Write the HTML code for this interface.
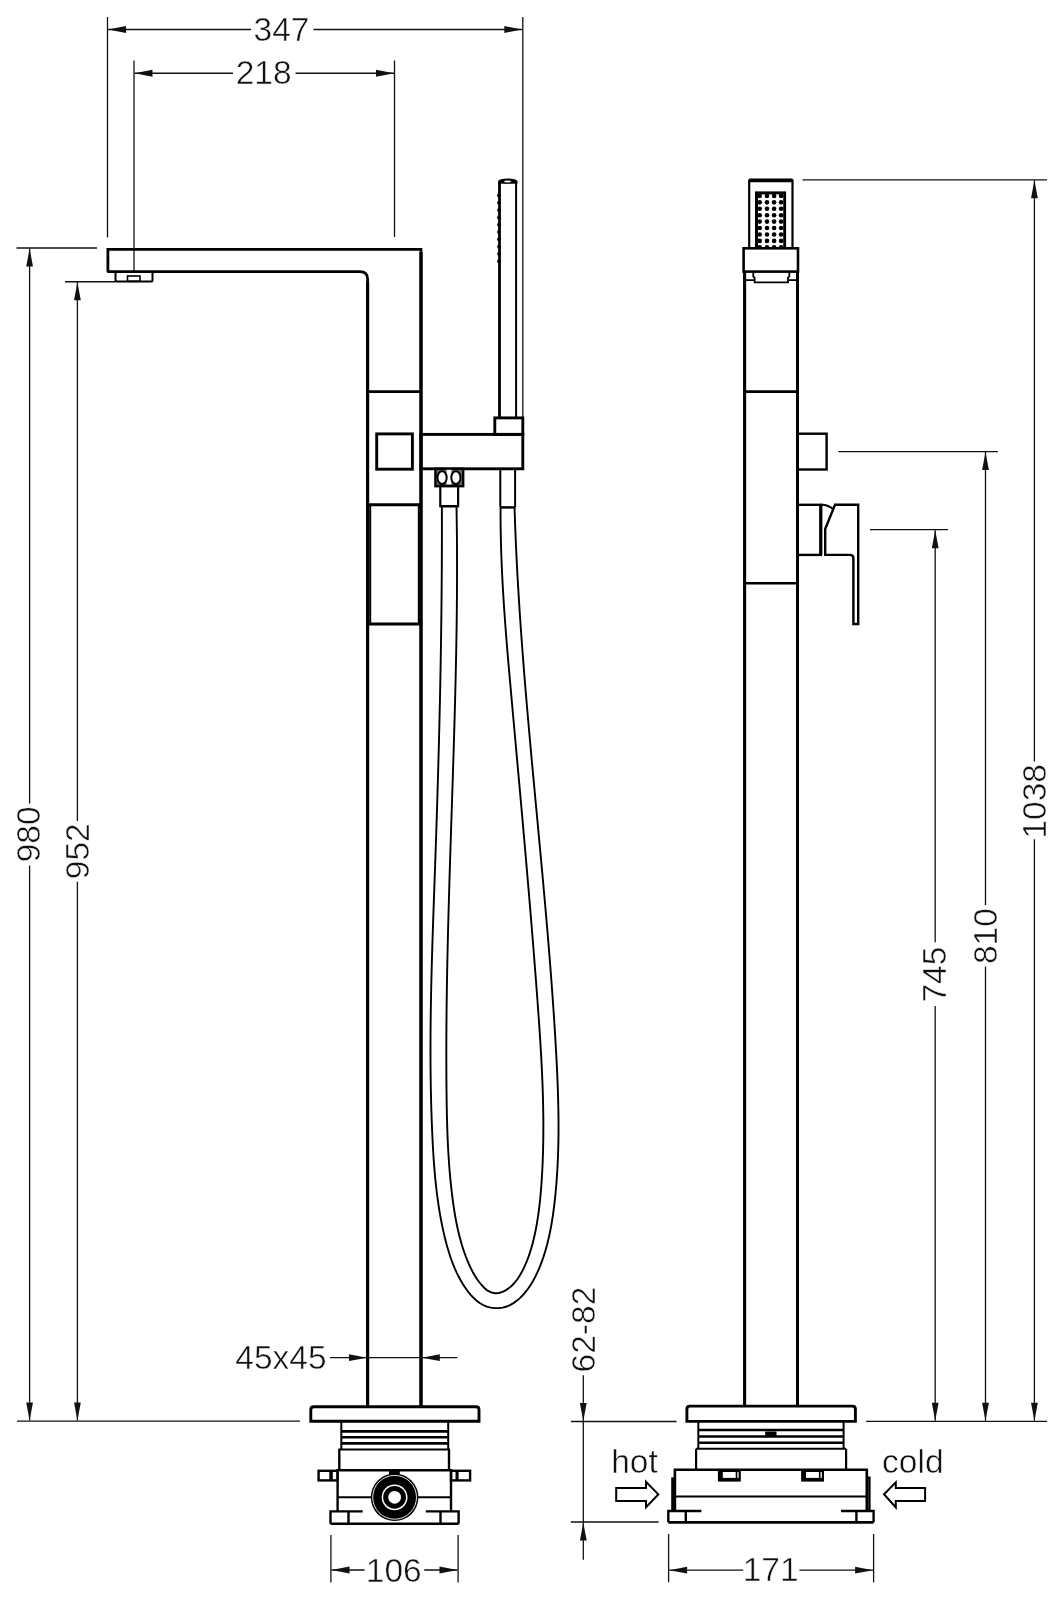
<!DOCTYPE html>
<html><head><meta charset="utf-8"><style>
html,body{margin:0;padding:0;background:#fff;}
svg{display:block;will-change:transform;}
text{font-family:"Liberation Sans",sans-serif;fill:#111;stroke:#fff;stroke-width:0.5px;}
</style></head><body>
<svg width="1064" height="1600" viewBox="0 0 1064 1600">
<rect x="0" y="0" width="1064" height="1600" fill="#fff"/>
<line x1="107.5" y1="17" x2="107.5" y2="237.5" stroke="#111" stroke-width="1.3" />
<line x1="522.8" y1="17" x2="522.8" y2="419" stroke="#111" stroke-width="1.3" />
<line x1="108" y1="29.5" x2="251" y2="29.5" stroke="#111" stroke-width="1.3" />
<line x1="313.5" y1="29.5" x2="522" y2="29.5" stroke="#111" stroke-width="1.3" />
<polygon points="108.00,29.50 126.00,26.10 126.00,32.90" fill="#111"/>
<polygon points="522.30,29.50 504.30,26.10 504.30,32.90" fill="#111"/>
<text x="281.5" y="41" font-size="33.5" text-anchor="middle">347</text>
<line x1="134" y1="60.5" x2="134" y2="272" stroke="#111" stroke-width="1.3" />
<line x1="394.5" y1="60.5" x2="394.5" y2="237" stroke="#111" stroke-width="1.3" />
<line x1="134.5" y1="73.25" x2="233" y2="73.25" stroke="#111" stroke-width="1.3" />
<line x1="295.5" y1="73.25" x2="394" y2="73.25" stroke="#111" stroke-width="1.3" />
<polygon points="134.50,73.25 152.50,69.85 152.50,76.65" fill="#111"/>
<polygon points="394.00,73.25 376.00,69.85 376.00,76.65" fill="#111"/>
<text x="263.7" y="84.4" font-size="33.5" text-anchor="middle">218</text>
<line x1="16.5" y1="248" x2="97" y2="248" stroke="#111" stroke-width="1.3" />
<line x1="65" y1="281.75" x2="115" y2="281.75" stroke="#111" stroke-width="1.3" />
<line x1="17" y1="1421.1" x2="300" y2="1421.1" stroke="#111" stroke-width="1.3" />
<line x1="29.6" y1="248.5" x2="29.6" y2="803.4" stroke="#111" stroke-width="1.3" />
<line x1="29.6" y1="865.4" x2="29.6" y2="1420.6" stroke="#111" stroke-width="1.3" />
<polygon points="29.60,248.50 26.20,266.50 33.00,266.50" fill="#111"/>
<polygon points="29.60,1420.60 26.20,1402.60 33.00,1402.60" fill="#111"/>
<text transform="translate(40,834.4) rotate(-90)" x="0" y="0" font-size="33.5" text-anchor="middle">980</text>
<line x1="77.4" y1="282" x2="77.4" y2="820.9" stroke="#111" stroke-width="1.3" />
<line x1="77.4" y1="881.8" x2="77.4" y2="1420.6" stroke="#111" stroke-width="1.3" />
<polygon points="77.40,282.20 74.00,300.20 80.80,300.20" fill="#111"/>
<polygon points="77.40,1420.60 74.00,1402.60 80.80,1402.60" fill="#111"/>
<text transform="translate(88.7,851.2) rotate(-90)" x="0" y="0" font-size="33.5" text-anchor="middle">952</text>
<path d="M107.9,249.3 L421,249.3 L421,1406.7" stroke="#000" stroke-width="2.7" fill="none" />
<line x1="421" y1="252" x2="421" y2="1406.7" stroke="#000" stroke-width="3.3" />
<path d="M107.9,247.9 L107.9,270.4 Q107.9,271.6 109.1,271.6 L360,271.6 Q367.6,271.6 367.6,279.2 L367.6,1406.7" stroke="#000" stroke-width="2.8" fill="none" />
<line x1="367.6" y1="282" x2="367.6" y2="1406.7" stroke="#000" stroke-width="3.2" />
<path d="M115.5,272 L115.5,280 Q115.5,281.6 117,281.6 L151,281.6 Q152.5,281.6 152.5,280 L152.5,272" stroke="#000" stroke-width="2.0" fill="none" />
<rect x="127.5" y="276" width="12.50" height="5.30" stroke="#000" stroke-width="1.6" fill="none"/>
<line x1="367.6" y1="391.6" x2="421" y2="391.6" stroke="#000" stroke-width="2.9" />
<line x1="367.6" y1="504.8" x2="421" y2="504.8" stroke="#000" stroke-width="2.9" />
<line x1="367.6" y1="624" x2="421" y2="624" stroke="#000" stroke-width="2.9" />
<line x1="370.2" y1="504.8" x2="370.2" y2="624" stroke="#000" stroke-width="2" />
<line x1="418.8" y1="504.8" x2="418.8" y2="624" stroke="#000" stroke-width="2" />
<rect x="376.7" y="433.9" width="35.70" height="35.30" stroke="#000" stroke-width="2.9" fill="none"/>
<rect x="421" y="434.4" width="101.80" height="34.40" stroke="#000" stroke-width="2.9" fill="none"/>
<line x1="499.5" y1="181" x2="499.5" y2="418" stroke="#000" stroke-width="2.8" />
<line x1="516.1" y1="181" x2="516.1" y2="418" stroke="#000" stroke-width="2.0" />
<ellipse cx="507.8" cy="181.0" rx="9.4" ry="2.6" fill="#000"/>
<rect x="498.1" y="181.0" width="19.30" height="2.70" stroke="#000" stroke-width="0" fill="#000"/>
<ellipse cx="507.6" cy="181.5" rx="3.4" ry="0.9" fill="#fff"/>
<circle cx="499" cy="195.50" r="1.9" fill="#000"/>
<circle cx="499" cy="202.80" r="1.9" fill="#000"/>
<circle cx="499" cy="210.10" r="1.9" fill="#000"/>
<circle cx="499" cy="217.40" r="1.9" fill="#000"/>
<circle cx="499" cy="224.70" r="1.9" fill="#000"/>
<circle cx="499" cy="232.00" r="1.9" fill="#000"/>
<circle cx="499" cy="239.30" r="1.9" fill="#000"/>
<circle cx="499" cy="246.60" r="1.9" fill="#000"/>
<circle cx="499" cy="253.90" r="1.9" fill="#000"/>
<circle cx="499" cy="261.20" r="1.9" fill="#000"/>
<rect x="494.8" y="417.9" width="28.00" height="16.50" stroke="#000" stroke-width="2.9" fill="none"/>
<rect x="435.4" y="468.8" width="27.80" height="17.40" stroke="#000" stroke-width="2.4" fill="#666"/>
<rect x="446.6" y="469.8" width="4.80" height="15.40" stroke="#000" stroke-width="0" fill="#fff"/>
<ellipse cx="442.1" cy="477.6" rx="4.6" ry="6.4" stroke="#000" stroke-width="2.0" fill="#fff"/>
<ellipse cx="455.9" cy="477.6" rx="4.6" ry="6.4" stroke="#000" stroke-width="2.0" fill="#fff"/>
<rect x="440.3" y="485.7" width="17.80" height="20.50" stroke="#000" stroke-width="2.2" fill="none"/>
<line x1="500.3" y1="468.8" x2="500.3" y2="507.4" stroke="#000" stroke-width="2" />
<line x1="515.1" y1="468.8" x2="515.1" y2="507.4" stroke="#000" stroke-width="2" />
<line x1="500.3" y1="507.4" x2="515.1" y2="507.4" stroke="#000" stroke-width="2" />
<path d="M441.87,506.21 L441.88,510.35 L441.89,514.49 L441.90,518.63 L441.90,522.77 L441.91,526.91 L441.91,531.04 L441.90,535.18 L441.90,539.32 L441.89,543.46 L441.88,547.60 L441.86,551.74 L441.85,555.88 L441.83,560.02 L441.81,564.16 L441.79,568.30 L441.76,572.44 L441.73,576.58 L441.70,580.72 L441.67,584.86 L441.64,589.00 L441.60,593.14 L441.56,597.28 L441.52,601.42 L441.48,605.56 L441.43,609.70 L441.39,613.84 L441.34,617.98 L441.28,622.12 L441.23,626.26 L441.17,630.40 L441.12,634.54 L441.06,638.68 L440.99,642.82 L440.93,646.97 L440.86,651.11 L440.79,655.25 L440.72,659.39 L440.65,663.53 L440.58,667.67 L440.50,671.81 L440.42,675.95 L440.34,680.09 L440.26,684.23 L440.18,688.37 L440.09,692.51 L440.01,696.65 L439.92,700.79 L439.83,704.93 L439.73,709.07 L439.64,713.21 L439.54,717.35 L439.45,721.49 L439.35,725.63 L439.25,729.78 L439.14,733.92 L439.04,738.06 L438.93,742.20 L438.82,746.34 L438.72,750.48 L438.60,754.62 L438.49,758.76 L438.38,762.90 L438.26,767.04 L438.15,771.18 L438.03,775.32 L437.91,779.46 L437.79,783.60 L437.66,787.74 L437.54,791.88 L437.42,796.02 L437.29,800.16 L437.16,804.29 L437.03,808.43 L436.90,812.57 L436.77,816.71 L436.63,820.85 L436.50,824.99 L436.36,829.13 L436.23,833.27 L436.09,837.41 L435.95,841.55 L435.81,845.69 L435.67,849.82 L435.52,853.96 L435.38,858.10 L435.23,862.24 L435.09,866.38 L434.94,870.52 L434.79,874.65 L434.65,878.79 L434.50,882.93 L434.35,887.07 L434.20,891.21 L434.05,895.34 L433.90,899.48 L433.76,903.62 L433.61,907.76 L433.47,911.89 L433.32,916.03 L433.18,920.17 L433.04,924.31 L432.90,928.44 L432.76,932.58 L432.63,936.72 L432.50,940.86 L432.37,945.00 L432.24,949.13 L432.12,953.27 L431.99,957.41 L431.88,961.55 L431.76,965.68 L431.65,969.82 L431.54,973.96 L431.44,978.10 L431.34,982.24 L431.25,986.37 L431.16,990.51 L431.07,994.65 L430.99,998.79 L430.92,1002.93 L430.85,1007.06 L430.78,1011.20 L430.73,1015.34 L430.67,1019.48 L430.63,1023.62 L430.59,1027.76 L430.55,1031.90 L430.53,1036.04 L430.50,1040.18 L430.49,1044.32 L430.48,1048.46 L430.49,1052.60 L430.49,1056.74 L430.51,1060.88 L430.54,1065.02 L430.57,1069.16 L430.61,1073.30 L430.66,1077.44 L430.72,1081.58 L430.78,1085.72 L430.86,1089.87 L430.94,1094.01 L431.04,1098.15 L431.14,1102.29 L431.26,1106.44 L431.38,1110.58 L431.51,1114.72 L431.66,1118.86 L431.81,1123.01 L431.98,1127.15 L432.15,1131.30 L432.34,1135.44 L432.54,1139.59 L432.75,1143.73 L432.98,1147.87 L433.22,1152.02 L433.48,1156.16 L433.76,1160.30 L434.06,1164.43 L434.39,1168.57 L434.74,1172.70 L435.11,1176.82 L435.51,1180.94 L435.94,1185.06 L436.40,1189.17 L436.90,1193.27 L437.43,1197.37 L437.99,1201.46 L438.59,1205.55 L439.23,1209.63 L439.91,1213.69 L440.63,1217.75 L441.40,1221.80 L442.21,1225.85 L443.07,1229.88 L443.97,1233.90 L444.93,1237.91 L445.94,1241.90 L447.00,1245.89 L448.14,1249.85 L449.35,1253.80 L450.65,1257.72 L452.04,1261.61 L453.54,1265.47 L455.16,1269.29 L456.90,1273.07 L458.77,1276.81 L460.79,1280.50 L462.95,1284.15 L465.28,1287.73 L467.79,1291.23 L470.47,1294.56 L473.33,1297.67 L476.40,1300.50 L479.67,1302.97 L483.15,1305.02 L486.85,1306.58 L490.75,1307.63 L494.76,1308.14 L498.80,1308.13 L502.80,1307.58 L506.68,1306.50 L510.39,1304.90 L513.92,1302.84 L517.26,1300.38 L520.42,1297.59 L523.39,1294.51 L526.15,1291.22 L528.72,1287.76 L531.08,1284.20 L533.25,1280.57 L535.23,1276.89 L537.05,1273.16 L538.74,1269.38 L540.30,1265.57 L541.77,1261.71 L543.14,1257.83 L544.42,1253.92 L545.61,1249.97 L546.73,1246.01 L547.76,1242.01 L548.72,1238.00 L549.61,1233.97 L550.43,1229.91 L551.19,1225.85 L551.90,1221.76 L552.55,1217.67 L553.15,1213.57 L553.71,1209.45 L554.22,1205.34 L554.70,1201.21 L555.15,1197.09 L555.56,1192.97 L555.94,1188.84 L556.30,1184.71 L556.62,1180.59 L556.92,1176.46 L557.19,1172.33 L557.43,1168.20 L557.65,1164.07 L557.84,1159.93 L558.00,1155.80 L558.14,1151.67 L558.26,1147.53 L558.36,1143.40 L558.43,1139.26 L558.48,1135.12 L558.51,1130.99 L558.52,1126.85 L558.51,1122.71 L558.49,1118.57 L558.44,1114.43 L558.38,1110.30 L558.30,1106.16 L558.21,1102.02 L558.10,1097.88 L557.98,1093.74 L557.84,1089.60 L557.70,1085.46 L557.53,1081.32 L557.36,1077.18 L557.18,1073.04 L556.99,1068.90 L556.78,1064.76 L556.57,1060.62 L556.35,1056.49 L556.13,1052.35 L555.89,1048.21 L555.65,1044.07 L555.41,1039.94 L555.16,1035.80 L554.91,1031.67 L554.65,1027.53 L554.38,1023.40 L554.11,1019.26 L553.84,1015.13 L553.56,1010.99 L553.28,1006.86 L552.99,1002.73 L552.70,998.60 L552.41,994.47 L552.11,990.33 L551.80,986.20 L551.50,982.07 L551.19,977.94 L550.87,973.81 L550.55,969.68 L550.23,965.55 L549.90,961.43 L549.58,957.30 L549.24,953.17 L548.91,949.04 L548.57,944.91 L548.23,940.79 L547.88,936.66 L547.54,932.53 L547.19,928.41 L546.83,924.28 L546.48,920.15 L546.12,916.03 L545.76,911.90 L545.40,907.78 L545.04,903.65 L544.67,899.53 L544.30,895.40 L543.93,891.28 L543.56,887.15 L543.19,883.03 L542.81,878.91 L542.44,874.78 L542.06,870.66 L541.68,866.54 L541.30,862.41 L540.92,858.29 L540.54,854.17 L540.16,850.04 L539.77,845.92 L539.39,841.80 L539.00,837.67 L538.62,833.55 L538.23,829.43 L537.84,825.31 L537.46,821.18 L537.07,817.06 L536.68,812.94 L536.30,808.82 L535.91,804.69 L535.52,800.57 L535.14,796.45 L534.75,792.33 L534.37,788.21 L533.98,784.08 L533.60,779.96 L533.21,775.84 L532.83,771.72 L532.45,767.59 L532.07,763.47 L531.69,759.35 L531.31,755.23 L530.94,751.10 L530.56,746.98 L530.19,742.86 L529.82,738.73 L529.45,734.61 L529.08,730.49 L528.71,726.36 L528.35,722.24 L527.99,718.12 L527.63,713.99 L527.27,709.87 L526.92,705.74 L526.56,701.62 L526.21,697.49 L525.87,693.37 L525.52,689.24 L525.18,685.12 L524.84,680.99 L524.50,676.87 L524.17,672.74 L523.84,668.61 L523.52,664.49 L523.19,660.36 L522.88,656.23 L522.56,652.11 L522.25,647.98 L521.94,643.85 L521.64,639.72 L521.34,635.59 L521.04,631.46 L520.75,627.33 L520.46,623.20 L520.18,619.07 L519.90,614.94 L519.63,610.81 L519.36,606.68 L519.09,602.55 L518.83,598.42 L518.58,594.29 L518.33,590.15 L518.09,586.02 L517.85,581.89 L517.61,577.75 L517.38,573.62 L517.16,569.48 L516.94,565.35 L516.73,561.21 L516.53,557.07 L516.33,552.94 L516.13,548.80 L515.94,544.66 L515.76,540.52 L515.59,536.38 L515.42,532.24 L515.25,528.10 L515.10,523.96 L514.95,519.82 L514.81,515.68 L514.67,511.54 L514.54,507.40" stroke="#000" stroke-width="1.9" fill="none" />
<path d="M456.49,506.20 L456.56,510.23 L456.63,514.25 L456.69,518.28 L456.75,522.30 L456.80,526.33 L456.84,530.35 L456.89,534.37 L456.92,538.40 L456.95,542.42 L456.98,546.45 L457.00,550.47 L457.02,554.50 L457.03,558.52 L457.04,562.54 L457.04,566.57 L457.04,570.59 L457.04,574.62 L457.03,578.64 L457.01,582.67 L456.99,586.69 L456.97,590.71 L456.95,594.74 L456.92,598.76 L456.88,602.79 L456.85,606.81 L456.80,610.83 L456.76,614.86 L456.71,618.88 L456.66,622.91 L456.61,626.93 L456.55,630.95 L456.49,634.98 L456.42,639.00 L456.35,643.03 L456.28,647.05 L456.21,651.07 L456.13,655.10 L456.05,659.12 L455.97,663.14 L455.88,667.17 L455.80,671.19 L455.71,675.22 L455.61,679.24 L455.52,683.26 L455.42,687.29 L455.32,691.31 L455.22,695.33 L455.12,699.36 L455.01,703.38 L454.90,707.41 L454.79,711.43 L454.68,715.45 L454.57,719.48 L454.45,723.50 L454.34,727.52 L454.22,731.55 L454.10,735.57 L453.98,739.59 L453.86,743.62 L453.74,747.64 L453.61,751.66 L453.49,755.69 L453.36,759.71 L453.23,763.73 L453.10,767.76 L452.98,771.78 L452.85,775.80 L452.72,779.83 L452.59,783.85 L452.45,787.87 L452.32,791.90 L452.19,795.92 L452.06,799.94 L451.93,803.97 L451.79,807.99 L451.66,812.02 L451.53,816.04 L451.39,820.06 L451.26,824.09 L451.13,828.11 L451.00,832.13 L450.87,836.15 L450.74,840.18 L450.60,844.20 L450.47,848.22 L450.35,852.25 L450.22,856.27 L450.09,860.29 L449.96,864.32 L449.84,868.34 L449.71,872.36 L449.59,876.39 L449.46,880.41 L449.34,884.43 L449.22,888.46 L449.10,892.48 L448.99,896.50 L448.87,900.53 L448.76,904.55 L448.65,908.57 L448.54,912.60 L448.43,916.62 L448.32,920.64 L448.21,924.67 L448.11,928.69 L448.01,932.71 L447.91,936.74 L447.82,940.76 L447.72,944.78 L447.63,948.81 L447.54,952.83 L447.45,956.85 L447.37,960.88 L447.29,964.90 L447.21,968.92 L447.14,972.95 L447.06,976.97 L446.99,980.99 L446.93,985.02 L446.86,989.04 L446.80,993.06 L446.75,997.09 L446.69,1001.11 L446.64,1005.13 L446.59,1009.16 L446.55,1013.18 L446.51,1017.20 L446.48,1021.23 L446.44,1025.25 L446.42,1029.27 L446.39,1033.30 L446.37,1037.32 L446.35,1041.34 L446.34,1045.37 L446.33,1049.39 L446.33,1053.41 L446.33,1057.44 L446.34,1061.46 L446.35,1065.48 L446.36,1069.51 L446.38,1073.53 L446.40,1077.55 L446.43,1081.58 L446.47,1085.60 L446.50,1089.62 L446.55,1093.65 L446.60,1097.67 L446.65,1101.70 L446.72,1105.72 L446.79,1109.74 L446.87,1113.76 L446.96,1117.79 L447.07,1121.81 L447.19,1125.83 L447.32,1129.85 L447.46,1133.87 L447.62,1137.89 L447.80,1141.91 L447.99,1145.93 L448.20,1149.95 L448.43,1153.97 L448.68,1157.98 L448.96,1162.00 L449.25,1166.01 L449.57,1170.02 L449.91,1174.04 L450.27,1178.05 L450.66,1182.06 L451.08,1186.07 L451.53,1190.07 L452.00,1194.08 L452.50,1198.08 L453.04,1202.09 L453.60,1206.09 L454.21,1210.08 L454.85,1214.07 L455.55,1218.05 L456.29,1222.02 L457.09,1225.97 L457.94,1229.91 L458.86,1233.82 L459.85,1237.72 L460.91,1241.60 L462.04,1245.45 L463.26,1249.27 L464.56,1253.06 L465.94,1256.82 L467.43,1260.55 L469.00,1264.24 L470.69,1267.89 L472.49,1271.49 L474.45,1275.02 L476.60,1278.45 L478.96,1281.78 L481.57,1284.99 L484.46,1288.02 L487.65,1290.63 L491.16,1292.44 L494.92,1293.24 L498.79,1292.95 L502.56,1291.80 L506.07,1290.07 L509.31,1287.85 L512.29,1285.22 L515.03,1282.23 L517.54,1278.96 L519.83,1275.45 L521.92,1271.79 L523.83,1268.03 L525.56,1264.24 L527.14,1260.45 L528.57,1256.66 L529.87,1252.86 L531.06,1249.06 L532.14,1245.24 L533.14,1241.41 L534.07,1237.55 L534.93,1233.67 L535.73,1229.77 L536.47,1225.85 L537.16,1221.91 L537.79,1217.96 L538.37,1213.98 L538.91,1210.00 L539.40,1206.00 L539.85,1202.00 L540.27,1197.98 L540.64,1193.96 L540.99,1189.94 L541.30,1185.91 L541.59,1181.87 L541.85,1177.84 L542.09,1173.81 L542.31,1169.78 L542.50,1165.75 L542.68,1161.72 L542.83,1157.69 L542.96,1153.67 L543.08,1149.64 L543.17,1145.61 L543.24,1141.59 L543.30,1137.56 L543.33,1133.54 L543.35,1129.51 L543.36,1125.49 L543.34,1121.46 L543.31,1117.44 L543.26,1113.42 L543.20,1109.40 L543.13,1105.38 L543.04,1101.36 L542.93,1097.33 L542.81,1093.31 L542.68,1089.29 L542.54,1085.28 L542.38,1081.26 L542.22,1077.24 L542.04,1073.22 L541.85,1069.20 L541.65,1065.18 L541.44,1061.17 L541.23,1057.15 L541.00,1053.13 L540.76,1049.12 L540.52,1045.10 L540.27,1041.09 L540.02,1037.07 L539.75,1033.06 L539.49,1029.04 L539.21,1025.03 L538.93,1021.01 L538.65,1017.00 L538.36,1012.98 L538.07,1008.97 L537.78,1004.96 L537.48,1000.94 L537.19,996.93 L536.89,992.91 L536.58,988.90 L536.28,984.89 L535.97,980.88 L535.67,976.86 L535.36,972.85 L535.05,968.84 L534.73,964.83 L534.42,960.81 L534.10,956.80 L533.78,952.79 L533.46,948.78 L533.14,944.77 L532.82,940.75 L532.50,936.74 L532.17,932.73 L531.84,928.72 L531.51,924.71 L531.18,920.70 L530.85,916.69 L530.52,912.67 L530.18,908.66 L529.85,904.65 L529.51,900.64 L529.17,896.63 L528.84,892.62 L528.50,888.61 L528.15,884.60 L527.81,880.59 L527.47,876.58 L527.12,872.57 L526.78,868.56 L526.43,864.55 L526.08,860.54 L525.73,856.53 L525.38,852.52 L525.03,848.51 L524.68,844.50 L524.33,840.49 L523.98,836.48 L523.62,832.47 L523.27,828.46 L522.91,824.46 L522.56,820.45 L522.20,816.44 L521.84,812.43 L521.49,808.42 L521.13,804.41 L520.77,800.40 L520.41,796.39 L520.05,792.38 L519.69,788.37 L519.33,784.37 L518.97,780.36 L518.61,776.35 L518.25,772.34 L517.88,768.33 L517.52,764.32 L517.16,760.31 L516.80,756.30 L516.44,752.30 L516.07,748.29 L515.71,744.28 L515.35,740.27 L514.98,736.26 L514.62,732.25 L514.26,728.24 L513.89,724.24 L513.53,720.23 L513.17,716.22 L512.81,712.21 L512.44,708.20 L512.08,704.19 L511.72,700.18 L511.36,696.18 L511.00,692.17 L510.64,688.16 L510.28,684.15 L509.92,680.14 L509.56,676.13 L509.21,672.12 L508.86,668.11 L508.51,664.10 L508.16,660.10 L507.82,656.09 L507.48,652.08 L507.15,648.07 L506.82,644.05 L506.50,640.04 L506.18,636.03 L505.86,632.02 L505.55,628.01 L505.25,624.00 L504.96,619.98 L504.67,615.97 L504.38,611.96 L504.11,607.94 L503.84,603.93 L503.58,599.92 L503.33,595.90 L503.09,591.88 L502.86,587.87 L502.63,583.85 L502.42,579.83 L502.21,575.81 L502.02,571.80 L501.83,567.78 L501.66,563.76 L501.50,559.73 L501.35,555.71 L501.21,551.69 L501.09,547.67 L500.97,543.64 L500.87,539.62 L500.78,535.59 L500.71,531.56 L500.65,527.54 L500.60,523.51 L500.57,519.48 L500.55,515.45 L500.55,511.42 L500.57,507.39" stroke="#000" stroke-width="1.9" fill="none" />
<line x1="440.3" y1="506.2" x2="458.1" y2="506.2" stroke="#000" stroke-width="2.2" />
<line x1="500.3" y1="507.4" x2="515.1" y2="507.4" stroke="#000" stroke-width="2" />
<line x1="330" y1="1357.7" x2="457.3" y2="1357.7" stroke="#111" stroke-width="1.3" />
<polygon points="367.00,1357.70 349.00,1354.30 349.00,1361.10" fill="#111"/>
<polygon points="421.80,1357.70 439.80,1354.30 439.80,1361.10" fill="#111"/>
<text x="280.9" y="1368.8" font-size="33.5" text-anchor="middle">45x45</text>
<path d="M310.8,1421.2 L310.8,1409.7 Q310.8,1406.7 313.8,1406.7 L476,1406.7 Q479,1406.7 479,1409.7 L479,1421.2 Z" stroke="#000" stroke-width="2.9" fill="none" />
<line x1="341.3" y1="1421.2" x2="341.3" y2="1449.4" stroke="#000" stroke-width="2" />
<line x1="448.2" y1="1421.2" x2="448.2" y2="1449.4" stroke="#000" stroke-width="2" />
<line x1="341.3" y1="1431.4" x2="448.7" y2="1431.4" stroke="#000" stroke-width="2.6" />
<line x1="341.3" y1="1437.3" x2="448.7" y2="1437.3" stroke="#000" stroke-width="2.6" />
<line x1="341.3" y1="1443.4" x2="448.7" y2="1443.4" stroke="#000" stroke-width="2.6" />
<line x1="338.3" y1="1449.4" x2="450.0" y2="1449.4" stroke="#000" stroke-width="2" />
<line x1="339.3" y1="1449.4" x2="339.3" y2="1470.3" stroke="#000" stroke-width="2.4" />
<line x1="449.0" y1="1449.4" x2="449.0" y2="1470.3" stroke="#000" stroke-width="2.4" />
<line x1="337.6" y1="1470.3" x2="337.6" y2="1511.4" stroke="#000" stroke-width="2.4" />
<line x1="451.0" y1="1470.3" x2="451.0" y2="1511.4" stroke="#000" stroke-width="2.4" />
<line x1="336.4" y1="1470.3" x2="452.2" y2="1470.3" stroke="#000" stroke-width="2.6" />
<line x1="337.6" y1="1497.2" x2="371" y2="1497.2" stroke="#000" stroke-width="2" />
<line x1="418" y1="1497.2" x2="451.0" y2="1497.2" stroke="#000" stroke-width="2" />
<rect x="318.6" y="1470.8" width="19.00" height="9.60" stroke="#000" stroke-width="2.4" fill="none"/>
<rect x="329.3" y="1470.8" width="3.50" height="9.60" stroke="#000" stroke-width="0" fill="#000"/>
<rect x="451.0" y="1470.8" width="19.10" height="9.60" stroke="#000" stroke-width="2.4" fill="none"/>
<rect x="455.5" y="1470.8" width="3.10" height="9.60" stroke="#000" stroke-width="0" fill="#000"/>
<rect x="389" y="1471" width="10.80" height="4.00" stroke="#000" stroke-width="0" fill="#000"/>
<circle cx="394.6" cy="1497.3" r="23.8" fill="#000"/>
<circle cx="394.6" cy="1497.3" r="21.9" fill="none" stroke="#fff" stroke-width="0.9"/>
<circle cx="394.6" cy="1497.3" r="12.9" fill="#fff"/>
<circle cx="394.6" cy="1497.3" r="11.4" fill="#000"/>
<circle cx="394.6" cy="1497.3" r="6.4" fill="#fff"/>
<path d="M330.5,1523.8 L330.5,1511.4 L362.7,1511.4" stroke="#000" stroke-width="2.4" fill="none" />
<line x1="348.5" y1="1511.4" x2="348.5" y2="1523.8" stroke="#000" stroke-width="2.4" />
<path d="M425.8,1511.4 L458.6,1511.4 L458.6,1523.8" stroke="#000" stroke-width="2.4" fill="none" />
<line x1="440.5" y1="1511.4" x2="440.5" y2="1523.8" stroke="#000" stroke-width="2.4" />
<line x1="330.5" y1="1523.8" x2="458.6" y2="1523.8" stroke="#000" stroke-width="2.6" />
<line x1="330.9" y1="1535" x2="330.9" y2="1582.4" stroke="#111" stroke-width="1.3" />
<line x1="458.1" y1="1535" x2="458.1" y2="1582.4" stroke="#111" stroke-width="1.3" />
<line x1="331.5" y1="1570" x2="364.6" y2="1570" stroke="#111" stroke-width="1.3" />
<line x1="424.2" y1="1570" x2="457.5" y2="1570" stroke="#111" stroke-width="1.3" />
<polygon points="331.50,1570.00 349.50,1566.60 349.50,1573.40" fill="#111"/>
<polygon points="457.50,1570.00 439.50,1566.60 439.50,1573.40" fill="#111"/>
<text x="393.8" y="1582" font-size="33.5" text-anchor="middle">106</text>
<path d="M749.2,248 L749.2,180.5 L792.5,180.5 L792.5,248" stroke="#000" stroke-width="2.2" fill="none" />
<line x1="749.2" y1="180.3" x2="792.5" y2="180.3" stroke="#000" stroke-width="3.8" />
<rect x="755.0" y="191.4" width="31.10" height="56.60" stroke="#000" stroke-width="0" fill="#000"/>
<rect x="758.0" y="194.4" width="25.20" height="53.60" stroke="#000" stroke-width="0" fill="#fff"/>
<clipPath id="dc"><rect x="755" y="191.4" width="31.1" height="56.6"/></clipPath><g clip-path="url(#dc)">
<circle cx="759.7" cy="195.90" r="2.3" fill="#000"/>
<circle cx="759.7" cy="202.33" r="2.3" fill="#000"/>
<circle cx="759.7" cy="208.76" r="2.3" fill="#000"/>
<circle cx="759.7" cy="215.19" r="2.3" fill="#000"/>
<circle cx="759.7" cy="221.62" r="2.3" fill="#000"/>
<circle cx="759.7" cy="228.05" r="2.3" fill="#000"/>
<circle cx="759.7" cy="234.48" r="2.3" fill="#000"/>
<circle cx="759.7" cy="240.91" r="2.3" fill="#000"/>
<circle cx="759.7" cy="247.34" r="2.3" fill="#000"/>
<circle cx="767.0" cy="195.90" r="2.3" fill="#000"/>
<circle cx="767.0" cy="202.33" r="2.3" fill="#000"/>
<circle cx="767.0" cy="208.76" r="2.3" fill="#000"/>
<circle cx="767.0" cy="215.19" r="2.3" fill="#000"/>
<circle cx="767.0" cy="221.62" r="2.3" fill="#000"/>
<circle cx="767.0" cy="228.05" r="2.3" fill="#000"/>
<circle cx="767.0" cy="234.48" r="2.3" fill="#000"/>
<circle cx="767.0" cy="240.91" r="2.3" fill="#000"/>
<circle cx="767.0" cy="247.34" r="2.3" fill="#000"/>
<circle cx="774.1" cy="195.90" r="2.3" fill="#000"/>
<circle cx="774.1" cy="202.33" r="2.3" fill="#000"/>
<circle cx="774.1" cy="208.76" r="2.3" fill="#000"/>
<circle cx="774.1" cy="215.19" r="2.3" fill="#000"/>
<circle cx="774.1" cy="221.62" r="2.3" fill="#000"/>
<circle cx="774.1" cy="228.05" r="2.3" fill="#000"/>
<circle cx="774.1" cy="234.48" r="2.3" fill="#000"/>
<circle cx="774.1" cy="240.91" r="2.3" fill="#000"/>
<circle cx="774.1" cy="247.34" r="2.3" fill="#000"/>
<circle cx="781.1" cy="195.90" r="2.3" fill="#000"/>
<circle cx="781.1" cy="202.33" r="2.3" fill="#000"/>
<circle cx="781.1" cy="208.76" r="2.3" fill="#000"/>
<circle cx="781.1" cy="215.19" r="2.3" fill="#000"/>
<circle cx="781.1" cy="221.62" r="2.3" fill="#000"/>
<circle cx="781.1" cy="228.05" r="2.3" fill="#000"/>
<circle cx="781.1" cy="234.48" r="2.3" fill="#000"/>
<circle cx="781.1" cy="240.91" r="2.3" fill="#000"/>
<circle cx="781.1" cy="247.34" r="2.3" fill="#000"/>
</g>
<rect x="743.6" y="248.3" width="54.40" height="23.30" stroke="#000" stroke-width="2.6" fill="none"/>
<path d="M745,280.2 L754,280.2 M788.5,280.2 L796,280.2" stroke="#000" stroke-width="1.8" fill="none" />
<path d="M753.3,272.5 L753.3,276.5 L754.6,277.5 L754.6,282.3 L788,282.3 L788,277.5 L789.3,276.5 L789.3,272.5" stroke="#000" stroke-width="1.8" fill="none" />
<line x1="744.6" y1="271.6" x2="744.6" y2="1406.1" stroke="#000" stroke-width="3.1" />
<line x1="797.5" y1="271.6" x2="797.5" y2="1406.1" stroke="#000" stroke-width="3.0" />
<line x1="744.6" y1="391.6" x2="797.4" y2="391.6" stroke="#000" stroke-width="2.6" />
<line x1="744.6" y1="583.2" x2="797.4" y2="583.2" stroke="#000" stroke-width="2.6" />
<rect x="797.4" y="433.7" width="29.20" height="35.80" stroke="#000" stroke-width="2.4" fill="none"/>
<rect x="797.4" y="504.8" width="23.40" height="50.10" stroke="#000" stroke-width="2.4" fill="none"/>
<line x1="820.8" y1="504.8" x2="820.8" y2="554.9" stroke="#000" stroke-width="3.2" />
<path d="M820.8,504.8 L822.8,504.8 Q829,505.5 833.2,509.3" stroke="#000" stroke-width="2" fill="none" />
<path d="M858.2,504.8 L835,504.8 L825.2,529.1 L825.2,554.9 L850,554.9 Q853.4,554.9 853.4,558.3 L853.4,624 L858.2,624 Z" stroke="#000" stroke-width="2.4" fill="none" />
<line x1="802.5" y1="179.8" x2="1047" y2="179.8" stroke="#111" stroke-width="1.3" />
<line x1="1034.4" y1="180.3" x2="1034.4" y2="761.6" stroke="#111" stroke-width="1.3" />
<line x1="1034.4" y1="839.2" x2="1034.4" y2="1420.8" stroke="#111" stroke-width="1.3" />
<polygon points="1034.40,180.30 1031.00,198.30 1037.80,198.30" fill="#111"/>
<polygon points="1034.40,1420.80 1031.00,1402.80 1037.80,1402.80" fill="#111"/>
<text transform="translate(1045.5,801.3) rotate(-90)" x="0" y="0" font-size="33.5" text-anchor="middle">1038</text>
<line x1="838.4" y1="451.6" x2="997.9" y2="451.6" stroke="#111" stroke-width="1.3" />
<line x1="985.5" y1="452.1" x2="985.5" y2="905" stroke="#111" stroke-width="1.3" />
<line x1="985.5" y1="966.6" x2="985.5" y2="1420.8" stroke="#111" stroke-width="1.3" />
<polygon points="985.50,452.10 982.10,470.10 988.90,470.10" fill="#111"/>
<polygon points="985.50,1420.80 982.10,1402.80 988.90,1402.80" fill="#111"/>
<text transform="translate(996.5,936.1) rotate(-90)" x="0" y="0" font-size="33.5" text-anchor="middle">810</text>
<line x1="870" y1="529.7" x2="947.9" y2="529.7" stroke="#111" stroke-width="1.3" />
<line x1="935.2" y1="530.2" x2="935.2" y2="942.2" stroke="#111" stroke-width="1.3" />
<line x1="935.2" y1="1005.9" x2="935.2" y2="1420.8" stroke="#111" stroke-width="1.3" />
<polygon points="935.20,530.20 931.80,548.20 938.60,548.20" fill="#111"/>
<polygon points="935.20,1420.80 931.80,1402.80 938.60,1402.80" fill="#111"/>
<text transform="translate(946.3,974.6) rotate(-90)" x="0" y="0" font-size="33.5" text-anchor="middle">745</text>
<line x1="866.1" y1="1421.3" x2="1047.1" y2="1421.3" stroke="#111" stroke-width="1.3" />
<line x1="570.9" y1="1421.5" x2="676.5" y2="1421.5" stroke="#111" stroke-width="1.3" />
<line x1="570.9" y1="1522" x2="658.6" y2="1522" stroke="#111" stroke-width="1.3" />
<line x1="583.3" y1="1375.2" x2="583.3" y2="1559.7" stroke="#111" stroke-width="1.3" />
<polygon points="583.30,1421.00 579.90,1403.00 586.70,1403.00" fill="#111"/>
<polygon points="583.30,1522.50 579.90,1540.50 586.70,1540.50" fill="#111"/>
<text transform="translate(594.9,1329.55) rotate(-90)" x="0" y="0" font-size="33.5" text-anchor="middle">62-82</text>
<path d="M686.9,1421.4 L686.9,1409.1 Q686.9,1406.1 689.9,1406.1 L852.4,1406.1 Q855.4,1406.1 855.4,1409.1 L855.4,1421.4 Z" stroke="#000" stroke-width="2.9" fill="none" />
<line x1="698.3" y1="1421.4" x2="698.3" y2="1448.8" stroke="#000" stroke-width="2" />
<line x1="843.6" y1="1421.4" x2="843.6" y2="1448.8" stroke="#000" stroke-width="2" />
<line x1="698.3" y1="1430" x2="843.6" y2="1430" stroke="#000" stroke-width="2.5" />
<line x1="698.3" y1="1436.4" x2="843.6" y2="1436.4" stroke="#000" stroke-width="2.5" />
<line x1="698.3" y1="1442.7" x2="843.6" y2="1442.7" stroke="#000" stroke-width="2.5" />
<rect x="765.2" y="1431.5" width="11.30" height="4.90" stroke="#000" stroke-width="0" fill="#000"/>
<line x1="696.1" y1="1448.8" x2="846.1" y2="1448.8" stroke="#000" stroke-width="2" />
<line x1="696.1" y1="1448.8" x2="696.1" y2="1470" stroke="#000" stroke-width="2.2" />
<line x1="846.1" y1="1448.8" x2="846.1" y2="1470" stroke="#000" stroke-width="2.2" />
<path d="M674.9,1511 L674.9,1469.8 L866.8,1469.8 L866.8,1511" stroke="#000" stroke-width="2.6" fill="none" />
<line x1="674.9" y1="1496.5" x2="866.8" y2="1496.5" stroke="#000" stroke-width="2" />
<rect x="671.2" y="1477.4" width="3.70" height="33.60" stroke="#000" stroke-width="0" fill="#000"/>
<path d="M866.8,1477.6 L869.4,1477.6 L869.4,1511" stroke="#000" stroke-width="2.4" fill="none" />
<rect x="717.9" y="1470" width="22.90" height="11.60" stroke="#000" stroke-width="0" fill="#000"/>
<rect x="722.8" y="1472" width="12.90" height="5.90" stroke="#000" stroke-width="0" fill="#fff"/>
<rect x="737.3" y="1472" width="1.30" height="5.90" stroke="#000" stroke-width="0" fill="#fff"/>
<rect x="801.1" y="1470" width="22.90" height="11.60" stroke="#000" stroke-width="0" fill="#000"/>
<rect x="806.0" y="1472" width="12.90" height="5.90" stroke="#000" stroke-width="0" fill="#fff"/>
<rect x="820.5" y="1472" width="1.30" height="5.90" stroke="#000" stroke-width="0" fill="#fff"/>
<path d="M668.3,1522.3 L668.3,1511 L701.4,1511" stroke="#000" stroke-width="2.4" fill="none" />
<line x1="685.8" y1="1511" x2="685.8" y2="1522.3" stroke="#000" stroke-width="2.4" />
<path d="M841,1511 L873.6,1511 L873.6,1522.3" stroke="#000" stroke-width="2.4" fill="none" />
<line x1="856.4" y1="1511" x2="856.4" y2="1522.3" stroke="#000" stroke-width="2.4" />
<line x1="668.3" y1="1522.3" x2="873.6" y2="1522.3" stroke="#000" stroke-width="2.8" />
<text x="611.2" y="1472.8" font-size="33.5" text-anchor="start">hot</text>
<text x="882.1" y="1473.1" font-size="33.5" text-anchor="start">cold</text>
<path d="M616.2,1488 L646,1488 L646,1481.8 L658.3,1494.4 L646,1507.2 L646,1501.1 L616.2,1501.1 Z" stroke="#000" stroke-width="2" fill="none" />
<path d="M925.1,1488.1 L895.8,1488.1 L895.8,1482.4 L884,1494.2 L895.8,1507.3 L895.8,1501 L925.1,1501 Z" stroke="#000" stroke-width="2" fill="none" />
<line x1="668.6" y1="1534" x2="668.6" y2="1582.3" stroke="#111" stroke-width="1.3" />
<line x1="873.6" y1="1534" x2="873.6" y2="1582.3" stroke="#111" stroke-width="1.3" />
<line x1="669.1" y1="1570.2" x2="743.2" y2="1570.2" stroke="#111" stroke-width="1.3" />
<line x1="799.4" y1="1570.2" x2="873.1" y2="1570.2" stroke="#111" stroke-width="1.3" />
<polygon points="669.10,1570.20 687.10,1566.80 687.10,1573.60" fill="#111"/>
<polygon points="873.10,1570.20 855.10,1566.80 855.10,1573.60" fill="#111"/>
<text x="770.6" y="1581.1" font-size="33.5" text-anchor="middle">171</text>
</svg>
</body></html>
